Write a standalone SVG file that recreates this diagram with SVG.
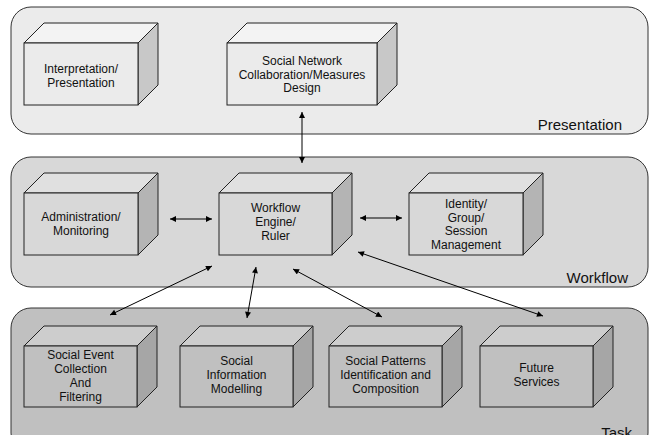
<svg xmlns="http://www.w3.org/2000/svg" width="649" height="435" viewBox="0 0 649 435">
<defs>
<marker id="ah" viewBox="0 0 10 10" refX="10" refY="5" markerWidth="7" markerHeight="6" orient="auto-start-reverse" markerUnits="userSpaceOnUse"><path d="M0,0 L10,5 L0,10 z" fill="#000"/></marker>
</defs>
<style>
.panel{stroke:#333;stroke-width:1}
.box path,.box rect{stroke:#222;stroke-width:1}
.t{font-family:"Liberation Sans",Arial,sans-serif;font-size:12px;fill:#111;text-anchor:middle}
.pl{font-family:"Liberation Sans",Arial,sans-serif;font-size:15px;fill:#111;text-anchor:end}
.c line{stroke:#000;stroke-width:1;marker-start:url(#ah);marker-end:url(#ah)}
.p1 .f{fill:#ebebeb}.p1 .tp{fill:#f3f3f3}.p1 .sd{fill:#c8c8c8}
.p2 .f{fill:#d8d8d8}.p2 .tp{fill:#e0e0e0}.p2 .sd{fill:#b4b4b4}
.p3 .f{fill:#c0c0c0}.p3 .tp{fill:#cdcdcd}.p3 .sd{fill:#a6a6a6}
</style>
<g id="panel-presentation">
<rect class="panel" x="11" y="7" width="637" height="127" rx="20" fill="#ebebeb"/>
<text class="pl" x="622" y="130">Presentation</text>
</g>
<g id="panel-workflow">
<rect class="panel" x="11" y="157" width="637" height="130" rx="20" fill="#d8d8d8"/>
<text class="pl" x="628" y="283">Workflow</text>
</g>
<g id="panel-task">
<rect class="panel" x="11" y="308" width="637" height="145" rx="20" fill="#c0c0c0"/>
<text class="pl" x="632" y="438">Task</text>
</g>

<g id="interpretation" class="box p1">
<path class="tp" d="M24,43 L44,23 L158,23 L138,43 Z"/>
<path class="sd" d="M138,43 L158,23 L158,85 L138,105 Z"/>
<rect class="f" x="24" y="43" width="114" height="62"/>
<text class="t" x="81" y="73">Interpretation/</text>
<text class="t" x="81" y="87">Presentation</text>
</g>
<g id="social-network" class="box p1">
<path class="tp" d="M227,43 L247,23 L397,23 L377,43 Z"/>
<path class="sd" d="M377,43 L397,23 L397,85 L377,105 Z"/>
<rect class="f" x="227" y="43" width="150" height="62"/>
<text class="t" x="302" y="65">Social Network</text>
<text class="t" x="302" y="78.5">Collaboration/Measures</text>
<text class="t" x="302" y="92">Design</text>
</g>

<g id="administration" class="box p2">
<path class="tp" d="M24,193 L44,173 L158,173 L138,193 Z"/>
<path class="sd" d="M138,193 L158,173 L158,235 L138,255 Z"/>
<rect class="f" x="24" y="193" width="114" height="62"/>
<text class="t" x="81" y="221">Administration/</text>
<text class="t" x="81" y="235">Monitoring</text>
</g>
<g id="workflow-engine" class="box p2">
<path class="tp" d="M219,193 L239,173 L352,173 L332,193 Z"/>
<path class="sd" d="M332,193 L352,173 L352,235 L332,255 Z"/>
<rect class="f" x="219" y="193" width="113" height="62"/>
<text class="t" x="275.5" y="212">Workflow</text>
<text class="t" x="275.5" y="226">Engine/</text>
<text class="t" x="275.5" y="240">Ruler</text>
</g>
<g id="identity" class="box p2">
<path class="tp" d="M409,193 L429,173 L543,173 L523,193 Z"/>
<path class="sd" d="M523,193 L543,173 L543,235 L523,255 Z"/>
<rect class="f" x="409" y="193" width="114" height="62"/>
<text class="t" x="466" y="208">Identity/</text>
<text class="t" x="466" y="221.5">Group/</text>
<text class="t" x="466" y="235">Session</text>
<text class="t" x="466" y="248.5">Management</text>
</g>

<g id="social-event" class="box p3">
<path class="tp" d="M24,346 L44,326 L157,326 L137,346 Z"/>
<path class="sd" d="M137,346 L157,326 L157,387 L137,407 Z"/>
<rect class="f" x="24" y="346" width="113" height="61"/>
<text class="t" x="80.5" y="359">Social Event</text>
<text class="t" x="80.5" y="373">Collection</text>
<text class="t" x="80.5" y="387">And</text>
<text class="t" x="80.5" y="401">Filtering</text>
</g>
<g id="social-information" class="box p3">
<path class="tp" d="M180,346 L200,326 L313,326 L293,346 Z"/>
<path class="sd" d="M293,346 L313,326 L313,387 L293,407 Z"/>
<rect class="f" x="180" y="346" width="113" height="61"/>
<text class="t" x="236.5" y="365">Social</text>
<text class="t" x="236.5" y="379">Information</text>
<text class="t" x="236.5" y="393">Modelling</text>
</g>
<g id="social-patterns" class="box p3">
<path class="tp" d="M329,346 L349,326 L462,326 L442,346 Z"/>
<path class="sd" d="M442,346 L462,326 L462,387 L442,407 Z"/>
<rect class="f" x="329" y="346" width="113" height="61"/>
<text class="t" x="385.5" y="365">Social Patterns</text>
<text class="t" x="385.5" y="379">Identification and</text>
<text class="t" x="385.5" y="393">Composition</text>
</g>
<g id="future-services" class="box p3">
<path class="tp" d="M480,346 L500,326 L613,326 L593,346 Z"/>
<path class="sd" d="M593,346 L613,326 L613,387 L593,407 Z"/>
<rect class="f" x="480" y="346" width="113" height="61"/>
<text class="t" x="536.5" y="372">Future</text>
<text class="t" x="536.5" y="386">Services</text>
</g>

<g id="connectors" class="c">
<line x1="302" y1="112" x2="302" y2="163"/>
<line x1="170" y1="219" x2="212" y2="219"/>
<line x1="360" y1="218" x2="402" y2="218"/>
<line x1="212" y1="266" x2="110" y2="315"/>
<line x1="256" y1="267" x2="247" y2="318"/>
<line x1="293" y1="269" x2="382" y2="317"/>
<line x1="358" y1="252" x2="543" y2="316"/>
</g>
</svg>
